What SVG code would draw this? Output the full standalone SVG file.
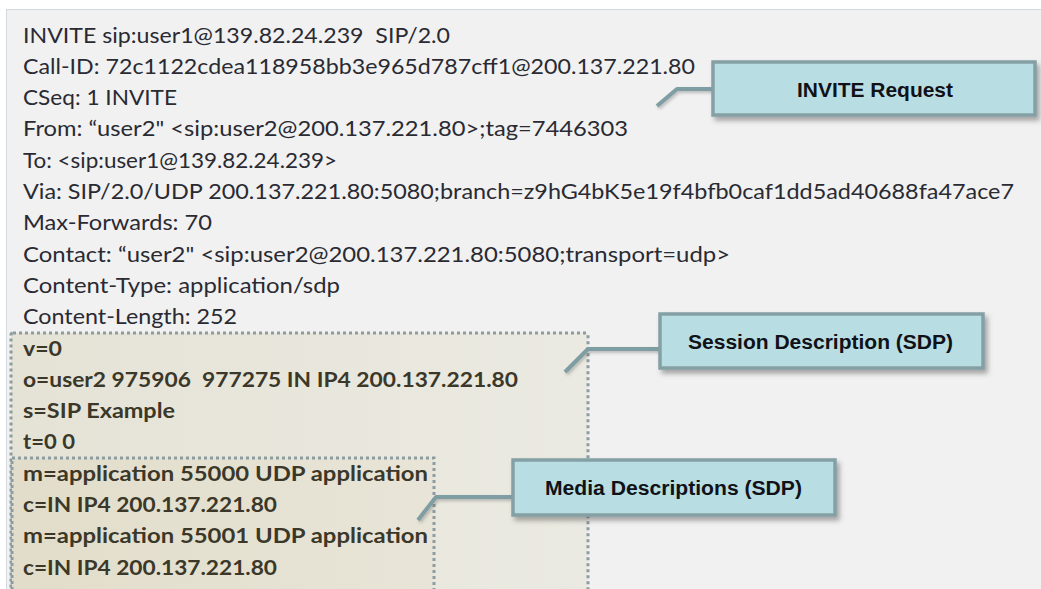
<svg xmlns="http://www.w3.org/2000/svg" width="1041" height="589" viewBox="0 0 1041 589">
  <style>
    .hdr { font-family: Lato, "Open Sans", "Liberation Sans", sans-serif; font-size: 21px; fill: #2a2a33; white-space: pre; }
    .sdp { font-family: Lato, "Open Sans", "Liberation Sans", sans-serif; font-size: 21px; font-weight: bold; fill: #3b3829; white-space: pre; }
    .dotbox { stroke: #8d9c9f; stroke-width: 3; stroke-dasharray: 3 3; }
    .callout { fill: #b8dee3; stroke: #84a0a5; stroke-width: 3.5; }
    .lbl { font-family: "Liberation Sans", Arial, sans-serif; font-size: 20px; font-weight: bold; fill: #111118; text-anchor: middle; }
    .conn { fill: none; stroke: #7f9ea4; stroke-width: 4; stroke-linejoin: round; stroke-linecap: butt; }
  </style>
  <defs>
    <filter id="shadow" x="-10%" y="-30%" width="125%" height="170%">
      <feDropShadow dx="3" dy="4" stdDeviation="2.5" flood-color="#4a4a4a" flood-opacity="0.45"/>
    </filter>
    <filter id="lineShadow" x="-20%" y="-50%" width="140%" height="200%">
      <feDropShadow dx="1.5" dy="2" stdDeviation="1.5" flood-color="#555" flood-opacity="0.35"/>
    </filter>
    <linearGradient id="sdpFill" x1="0" y1="0" x2="1" y2="0">
      <stop offset="0" stop-color="#e5e3d6"/>
      <stop offset="1" stop-color="#ebeae2"/>
    </linearGradient>
    <linearGradient id="mediaFill" x1="0" y1="0" x2="1" y2="0">
      <stop offset="0" stop-color="#e2ddca"/>
      <stop offset="1" stop-color="#e8e5d8"/>
    </linearGradient>
  </defs>

  <rect x="0" y="0" width="1041" height="589" fill="#ffffff"/>
  <rect id="panel" x="6.5" y="9.5" width="1040" height="590" fill="#f1f1f1" stroke="#d3d9dd" stroke-width="1"/>

  <g id="sdp-region">
    <rect x="11" y="333" width="577" height="270" rx="2" fill="url(#sdpFill)" class="dotbox"/>
    <rect x="12" y="458" width="422" height="145" fill="url(#mediaFill)" class="dotbox"/>
  </g>

  <g id="message">
    <text class="hdr" x="23" y="42.5" textLength="427" lengthAdjust="spacingAndGlyphs">INVITE sip:user1@139.82.24.239  SIP/2.0</text>
    <text class="hdr" x="23" y="73.8" textLength="672" lengthAdjust="spacingAndGlyphs">Call-ID: 72c1122cdea118958bb3e965d787cff1@200.137.221.80</text>
    <text class="hdr" x="23" y="105.1" textLength="154" lengthAdjust="spacingAndGlyphs">CSeq: 1 INVITE</text>
    <text class="hdr" x="23" y="136.4" textLength="605" lengthAdjust="spacingAndGlyphs">From: “user2" &lt;sip:user2@200.137.221.80&gt;;tag=7446303</text>
    <text class="hdr" x="23" y="167.7" textLength="314" lengthAdjust="spacingAndGlyphs">To: &lt;sip:user1@139.82.24.239&gt;</text>
    <text class="hdr" x="23" y="199.0" textLength="991" lengthAdjust="spacingAndGlyphs">Via: SIP/2.0/UDP 200.137.221.80:5080;branch=z9hG4bK5e19f4bfb0caf1dd5ad40688fa47ace7</text>
    <text class="hdr" x="23" y="230.3" textLength="189" lengthAdjust="spacingAndGlyphs">Max-Forwards: 70</text>
    <text class="hdr" x="23" y="261.6" textLength="707" lengthAdjust="spacingAndGlyphs">Contact: “user2" &lt;sip:user2@200.137.221.80:5080;transport=udp&gt;</text>
    <text class="hdr" x="23" y="292.9" textLength="317" lengthAdjust="spacingAndGlyphs">Content-Type: application/sdp</text>
    <text class="hdr" x="23" y="324.2" textLength="214" lengthAdjust="spacingAndGlyphs">Content-Length: 252</text>
    <text class="sdp" x="23" y="355.5" textLength="39" lengthAdjust="spacingAndGlyphs">v=0</text>
    <text class="sdp" x="23" y="386.8" textLength="495" lengthAdjust="spacingAndGlyphs">o=user2 975906  977275 IN IP4 200.137.221.80</text>
    <text class="sdp" x="23" y="418.1" textLength="152" lengthAdjust="spacingAndGlyphs">s=SIP Example</text>
    <text class="sdp" x="23" y="449.4" textLength="52" lengthAdjust="spacingAndGlyphs">t=0 0</text>
    <text class="sdp" x="23" y="480.7" textLength="405" lengthAdjust="spacingAndGlyphs">m=application 55000 UDP application</text>
    <text class="sdp" x="23" y="512.0" textLength="254" lengthAdjust="spacingAndGlyphs">c=IN IP4 200.137.221.80</text>
    <text class="sdp" x="23" y="543.3" textLength="405" lengthAdjust="spacingAndGlyphs">m=application 55001 UDP application</text>
    <text class="sdp" x="23" y="574.6" textLength="254" lengthAdjust="spacingAndGlyphs">c=IN IP4 200.137.221.80</text>
  </g>

  <g id="connectors" filter="url(#lineShadow)">
    <path class="conn" d="M 713 89 L 677 89 L 657 106"/>
    <path class="conn" d="M 660 349 L 588 349 L 565 372"/>
    <path class="conn" d="M 513 497 L 436 497 L 418 520"/>
  </g>

  <g id="invite-request">
    <rect class="callout" x="713" y="62" width="322" height="53" filter="url(#shadow)"/>
    <text class="lbl" x="875" y="97" textLength="156" lengthAdjust="spacingAndGlyphs">INVITE Request</text>
  </g>

  <g id="session-description">
    <rect class="callout" x="660" y="314" width="323" height="54" filter="url(#shadow)"/>
    <text class="lbl" x="820.5" y="349" textLength="265" lengthAdjust="spacingAndGlyphs">Session Description (SDP)</text>
  </g>

  <g id="media-descriptions">
    <rect class="callout" x="513" y="460" width="322" height="55" filter="url(#shadow)"/>
    <text class="lbl" x="673.5" y="495" textLength="257" lengthAdjust="spacingAndGlyphs">Media Descriptions (SDP)</text>
  </g>
</svg>
